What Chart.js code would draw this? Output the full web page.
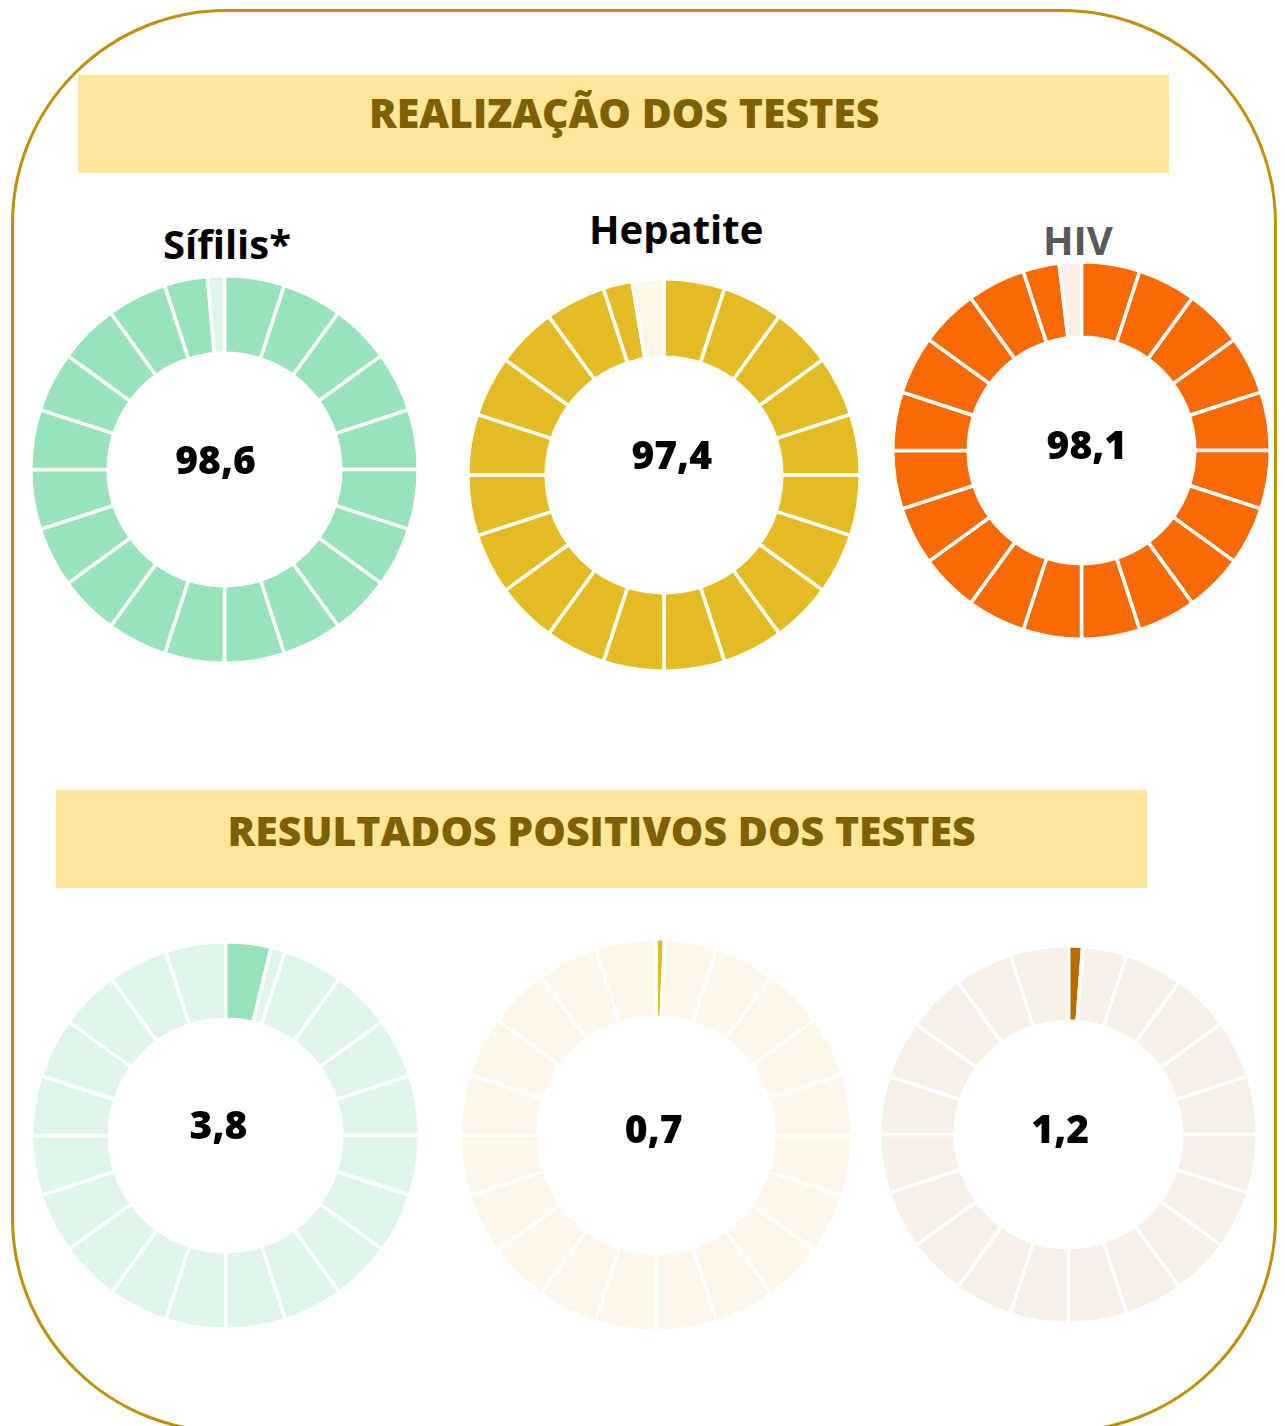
<!DOCTYPE html>
<html lang="pt">
<head>
<meta charset="utf-8">
<title>Realização e resultados positivos dos testes</title>
<script src="https://cdn.jsdelivr.net/npm/chart.js@4.4.1/dist/chart.umd.min.js"></script>
<style>
  html, body { margin: 0; padding: 0; background: #ffffff; }
  #page { position: relative; width: 1285px; height: 1426px; overflow: hidden; background: #ffffff; }
  #frame { position: absolute; left: 11px; top: 9px; width: 1266px; height: 1424px; box-sizing: border-box;
           border: 3px solid #BF9000; border-radius: 215px; }
  .band { position: absolute; background: #FFE699; }
  .txt { position: absolute; white-space: nowrap; font-family: "Open Sans", "Liberation Sans", sans-serif; line-height: 1; }
  canvas { position: absolute; }
</style>
</head>
<body>
<div id="page">
  <div id="frame"></div>
  <div class="band" style="left:78px; top:75px; width:1091px; height:98px;"></div>
  <div class="band" style="left:56px; top:790px; width:1091px; height:98px;"></div>
</div>
<script>
// ---------------- data ----------------
const categories = ['Sífilis*', 'Hepatite', 'HIV'];
const sectionTitles = ['REALIZAÇÃO DOS TESTES', 'RESULTADOS POSITIVOS DOS TESTES'];
const realizacao = [98.6, 97.4, 98.1];      // % de testes realizados
const positivos = [3.8, 0.7, 1.2];          // % de resultados positivos
const valueLabelsTop = ['98,6', '97,4', '98,1'];
const valueLabelsBottom = ['3,8', '0,7', '1,2'];
const blockSize = 5;                         // each ring is cut into 20 blocks of 5 %

// ---------------- styles ----------------
const onColorsTop = ['#98E3BA', '#E3BB22', '#F76A05'];
const offColorsTop = ['#DFF5E9', '#FDF7E8', '#FEEEE6'];
const onColorsBottom = ['#98E3BA', '#E3BB22', '#BA6A00'];
const offColorsBottom = ['#DFF5E9', '#FCF7E8', '#F6F0E6'];
const titleColors = ['#000000', '#000000', '#595959'];
const gapWidth = 3.5;

// ---------------- layout ----------------
const ringsTop = [{cx: 224.3, cy: 469, r: 192}, {cx: 663.8, cy: 475, r: 194.4}, {cx: 1081.8, cy: 450.3, r: 187}];
const ringsBottom = [{cx: 225.3, cy: 1135.7, r: 192}, {cx: 655.5, cy: 1135, r: 194.4}, {cx: 1068.3, cy: 1134, r: 186.8}];
const labelOffsetTop = [[-9, 4], [7.7, -5.7], [5.4, 8]];
const labelOffsetBottom = [[-7, 3.6], [-2.3, 8.3], [-8.3, 8.3]];
const titlePos = [{x: 227, base: 259}, {x: 676, base: 244}, {x: 1078, base: 255}];
const sectionPos = [{x: 624.5, base: 128}, {x: 601.5, base: 846}];

const page = document.getElementById('page');
const measureCtx = document.createElement('canvas').getContext('2d');

function placeText(text, font, color, cx, baseline) {
  measureCtx.font = font;
  const m = measureCtx.measureText(text);
  const el = document.createElement('div');
  el.className = 'txt';
  el.textContent = text;
  el.style.font = font;
  el.style.lineHeight = '1';
  el.style.color = color;
  page.appendChild(el);
  const asc = m.fontBoundingBoxAscent, desc = m.fontBoundingBoxDescent;
  const size = parseFloat(font.match(/(\d+(\.\d+)?)px/)[1]);
  const baseInBox = (size - (asc + desc)) / 2 + asc;
  el.style.top = (baseline - baseInBox) + 'px';
  el.style.left = (cx - el.offsetWidth / 2) + 'px';
}

function buildRing(value, on, off) {
  const data = [], colors = [];
  for (let start = 0; start < 100; start += blockSize) {
    const end = start + blockSize;
    if (value >= end) { data.push(blockSize); colors.push(on); }
    else if (value <= start) { data.push(blockSize); colors.push(off); }
    else { data.push(+(value - start).toFixed(2), +(end - value).toFixed(2)); colors.push(on, off); }
  }
  return {data, colors};
}

const centerLabel = {
  id: 'centerLabel',
  afterDraw(chart, args, opts) {
    const arc = chart.getDatasetMeta(0).data[0];
    if (!arc) return;
    const ctx = chart.ctx;
    ctx.save();
    ctx.font = '800 39px "Open Sans", sans-serif';
    ctx.fillStyle = '#000000';
    ctx.textAlign = 'center';
    ctx.textBaseline = 'alphabetic';
    ctx.fillText(opts.text, arc.x + opts.dx, arc.y + opts.dy);
    ctx.restore();
  }
};

function makeRing(ring, value, on, off, label, offset, name) {
  const size = Math.round(2 * ring.r + 2 * gapWidth);
  const cv = document.createElement('canvas');
  cv.width = size; cv.height = size;
  cv.style.width = size + 'px'; cv.style.height = size + 'px';
  cv.style.left = Math.round(ring.cx - size / 2) + 'px';
  cv.style.top = Math.round(ring.cy - size / 2) + 'px';
  page.appendChild(cv);
  const seg = buildRing(value, on, off);
  new Chart(cv, {
    type: 'doughnut',
    data: {
      labels: seg.data.map((_, i) => name + ' ' + (i + 1)),
      datasets: [{ data: seg.data, backgroundColor: seg.colors, borderColor: '#ffffff', borderWidth: gapWidth, hoverOffset: 0 }]
    },
    options: {
      responsive: false,
      maintainAspectRatio: false,
      animation: false,
      cutout: '60%',
      layout: { padding: 0 },
      events: [],
      plugins: {
        legend: { display: false },
        tooltip: { enabled: false },
        centerLabel: { text: label, dx: offset[0], dy: offset[1] }
      }
    },
    plugins: [centerLabel]
  });
}

document.fonts.ready.then(() => {
  placeText(sectionTitles[0], '800 41px "Open Sans"', '#7F6000', sectionPos[0].x, sectionPos[0].base);
  placeText(sectionTitles[1], '800 41px "Open Sans"', '#7F6000', sectionPos[1].x, sectionPos[1].base);
  categories.forEach((c, i) => {
    placeText(c, '700 40px "Open Sans"', titleColors[i], titlePos[i].x, titlePos[i].base);
    makeRing(ringsTop[i], realizacao[i], onColorsTop[i], offColorsTop[i], valueLabelsTop[i], labelOffsetTop[i], c);
    makeRing(ringsBottom[i], positivos[i], onColorsBottom[i], offColorsBottom[i], valueLabelsBottom[i], labelOffsetBottom[i], c);
  });
});
</script>
</body>
</html>
